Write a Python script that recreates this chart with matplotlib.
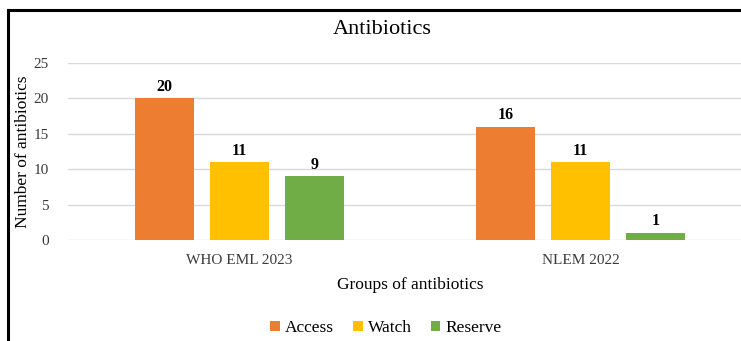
import matplotlib
matplotlib.use("Agg")
import numpy as np
import matplotlib.pyplot as plt
from matplotlib.lines import Line2D

# Data ------------------------
groups = ["WHO EML 2023", "NLEM 2022"]
series = ["Access", "Watch", "Reserve"]
access = [20, 16]
watch = [11, 11]
reserve = [9, 1]
colors = ["#ED7D31", "#FFC000", "#70AD47"]
# -----------------------------

plt.rcParams["font.family"] = ["Liberation Serif", "DejaVu Serif"]

fig = plt.figure(figsize=(7.41, 3.41), dpi=100)
ax = fig.add_axes([0.0918, 0.2962, 0.923, 0.519])

x = np.arange(len(groups))
step = 0.22
width = 0.173
for i, (name, vals, c) in enumerate(zip(series, [access, watch, reserve], colors)):
    bars = ax.bar(x + (i - 1) * step, vals, width, color=c, label=name, zorder=3)
    ax.bar_label(bars, padding=2.5, fontsize=11.5, fontweight="bold")

ax.set_xlim(-0.503, 1.503)
ax.set_ylim(0, 25)
ax.set_yticks(range(0, 26, 5))
ax.set_xticks(x)
ax.set_xticklabels(groups)
ax.grid(axis="y", color="#D9D9D9", linewidth=1.0, zorder=0)
for s in ax.spines.values():
    s.set_visible(False)
ax.tick_params(axis="both", length=0, labelsize=11, colors="#3a3a3a")
ax.tick_params(axis="y", pad=14)
ax.tick_params(axis="x", pad=10)

ax.set_xlabel("Groups of antibiotics", fontsize=12.5, labelpad=7)
ax.set_ylabel("Number of antibiotics", fontsize=12.5, labelpad=1.5)

fig.text(382 / 741, 1 - 29 / 341, "Antibiotics", ha="center", va="center", fontsize=16)

fig.legend(loc="center", bbox_to_anchor=(386 / 741, 1 - 328 / 341), ncol=3,
           frameon=False, fontsize=12.5, handlelength=0.55, handleheight=0.55,
           handletextpad=0.3, columnspacing=1.1)

# outer frame of the chart (cropped on right and bottom)
fig.add_artist(Line2D([8 / 741, 8 / 741], [0, 1 - 10 / 341], color="black", lw=2.2,
                      transform=fig.transFigure))
fig.add_artist(Line2D([8 / 741, 1], [1 - 10 / 341, 1 - 10 / 341], color="black", lw=2.2,
                      transform=fig.transFigure))

fig.savefig("out.png", dpi=100)
